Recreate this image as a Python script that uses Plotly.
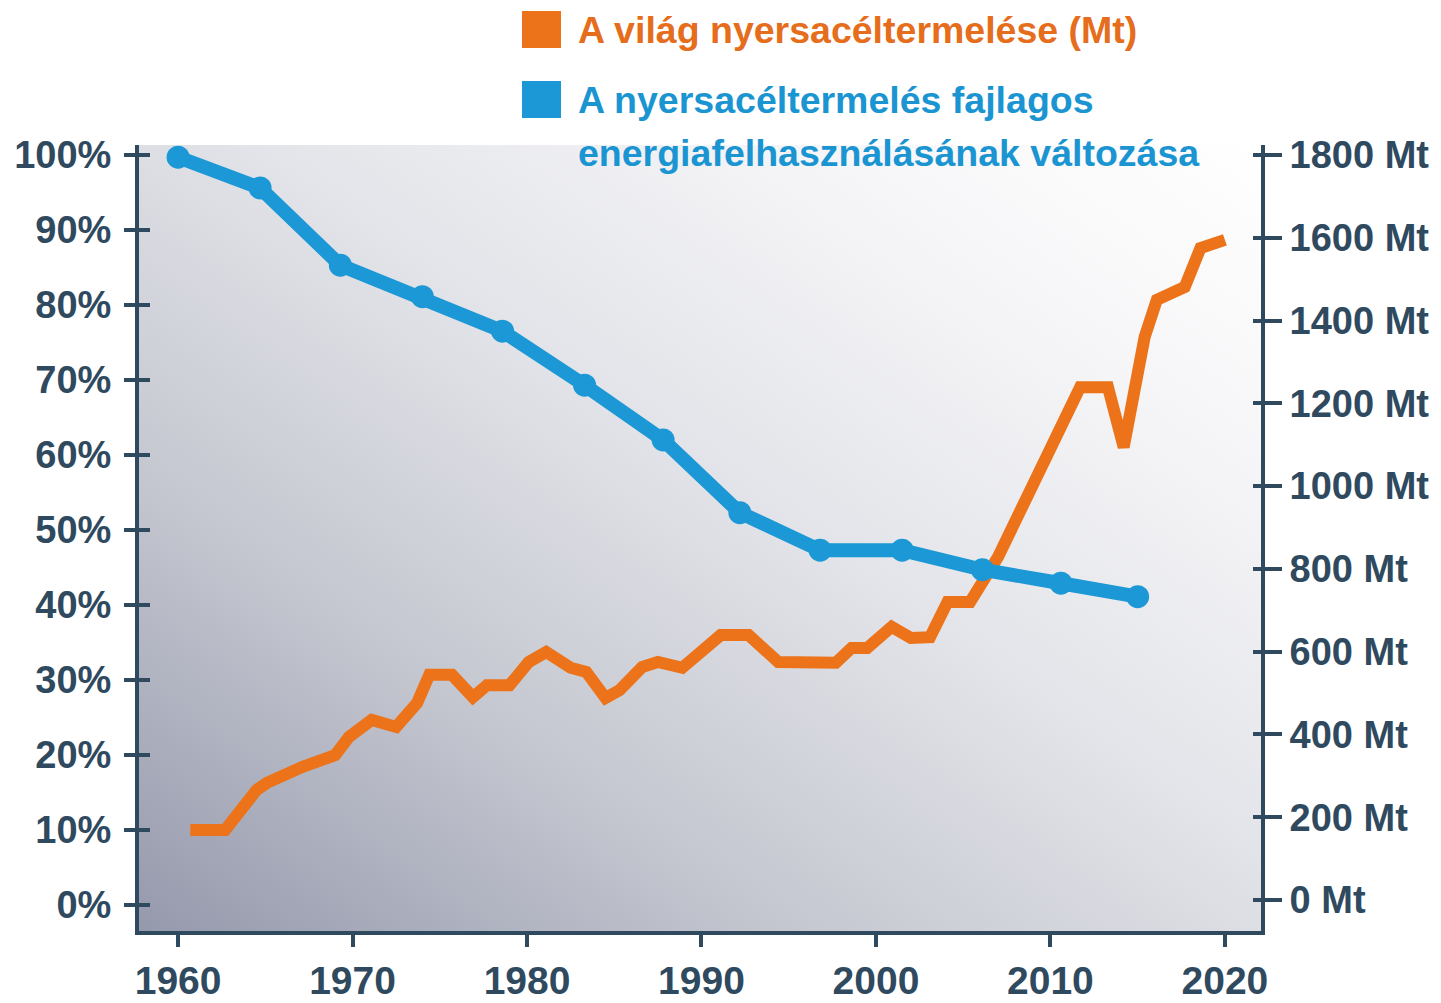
import base64
import plotly.graph_objects as go

# ---------------- data ----------------
steel_years = [1960.7, 1962.7, 1964.5, 1965.1, 1967.1, 1969.0, 1969.8, 1971.1, 1972.5, 1973.7,
               1974.4, 1975.7, 1976.9, 1977.7, 1979.0, 1980.1, 1981.1, 1982.5, 1983.4, 1984.5,
               1985.3, 1986.6, 1987.5, 1988.9, 1991.1, 1992.7, 1994.4, 1997.7, 1998.6, 1999.5,
               2000.9, 2002.0, 2003.1, 2004.1, 2005.4, 2007.0, 2011.7, 2013.3, 2014.2, 2015.4,
               2016.1, 2017.7, 2018.6, 2020.0]
steel_mt = [169, 169, 266, 283, 321, 350, 394, 435, 418, 476,
            544, 544, 490, 519, 519, 575, 599, 561, 551, 488,
            507, 563, 575, 561, 640, 640, 575, 573, 609, 609,
            660, 633, 635, 720, 720, 829, 1239, 1239, 1094, 1360,
            1450, 1481, 1575, 1595]

energy_years = [1960.0, 1964.7, 1969.3, 1974.0, 1978.6, 1983.3, 1987.8, 1992.2, 1996.8,
                2001.5, 2006.1, 2010.6, 2015.0]
energy_pct = [99.7, 95.6, 85.3, 81.1, 76.5, 69.3, 62.0, 52.3, 47.3, 47.3, 44.7, 42.9, 41.1]

x_ticks = [1960, 1970, 1980, 1990, 2000, 2010, 2020]
pct_ticks = [0, 10, 20, 30, 40, 50, 60, 70, 80, 90, 100]
pct_labels = [f"{v}%" for v in pct_ticks]
mt_ticks = [0, 200, 400, 600, 800, 1000, 1200, 1400, 1600, 1800]
mt_labels = [f"{v} Mt" for v in mt_ticks]

legend_steel = "A világ nyersacéltermelése (Mt)"
legend_energy_1 = "A nyersacéltermelés fajlagos"
legend_energy_2 = "energiafelhasználásának változása"

# ---------------- style ----------------
FONT = "Liberation Sans, Arial, Helvetica, sans-serif"
AX = "#2f4a5f"
ORANGE = "#ec7319"
BLUE = "#1b98d5"
ORANGE_TXT = "#e56d1c"
BLUE_TXT = "#1a95d2"

W, H = 1441, 1003
L, R, T, B = 139, 1261, 145, 931

X_RANGE = [1957.76, 2022.07]
PCT_RANGE = [-3.47, 101.33]
MT_RANGE = [-74.9, 1824.1]

svg = ("<svg xmlns='http://www.w3.org/2000/svg' width='200' height='200' preserveAspectRatio='none'>"
       "<defs><linearGradient id='g' x1='0' y1='1' x2='1' y2='0'>"
       "<stop offset='0' stop-color='#9599ac'/>"
       "<stop offset='0.3' stop-color='#c6c8d1'/>"
       "<stop offset='0.55' stop-color='#e3e4e9'/>"
       "<stop offset='0.8' stop-color='#f6f6f8'/>"
       "<stop offset='1' stop-color='#ffffff'/>"
       "</linearGradient></defs><rect width='200' height='200' fill='url(#g)'/></svg>")
bg_uri = "data:image/svg+xml;base64," + base64.b64encode(svg.encode()).decode()

fig = go.Figure()

# orange on primary (right, Mt) axis, drawn first
fig.add_trace(go.Scatter(x=steel_years, y=steel_mt, mode="lines",
                         line=dict(color=ORANGE, width=12), xaxis="x", yaxis="y",
                         name=legend_steel, showlegend=False, hoverinfo="skip"))
# blue on overlaying (left, %) axis, drawn on top
fig.add_trace(go.Scatter(x=energy_years, y=energy_pct, mode="lines+markers",
                         line=dict(color=BLUE, width=14),
                         marker=dict(color=BLUE, size=23),
                         xaxis="x", yaxis="y2",
                         name=legend_energy_1, showlegend=False, hoverinfo="skip"))
# empty traces so the inner-tick helper axes are drawn
fig.add_trace(go.Scatter(x=[None], y=[None], xaxis="x", yaxis="y3", showlegend=False, hoverinfo="skip"))
fig.add_trace(go.Scatter(x=[None], y=[None], xaxis="x", yaxis="y4", showlegend=False, hoverinfo="skip"))

tickfont = dict(family=FONT, size=38, color=AX, weight="bold")

common_y = dict(showgrid=False, zeroline=False, showline=True, linecolor=AX, linewidth=4,
                tickcolor=AX, tickwidth=4, fixedrange=True, automargin=False)

fig.update_layout(
    width=W, height=H,
    margin=dict(l=L, r=W - R, t=T, b=H - B, pad=0, autoexpand=False),
    paper_bgcolor="white",
    plot_bgcolor="rgba(0,0,0,0)",
    showlegend=False,
    xaxis=dict(range=X_RANGE, tickmode="array", tickvals=x_ticks,
               ticks="outside", ticklen=12, tickwidth=4, tickcolor=AX,
               showline=True, linecolor=AX, linewidth=4, showgrid=False, zeroline=False,
               tickfont=dict(family=FONT, size=39, color=AX, weight="bold"),
               fixedrange=True, automargin=False),
    yaxis=dict(range=MT_RANGE, side="right", tickmode="array", tickvals=mt_ticks,
               ticktext=mt_labels, ticks="outside", ticklen=17, tickfont=tickfont, **common_y),
    yaxis2=dict(range=PCT_RANGE, side="left", overlaying="y", tickmode="array",
                tickvals=pct_ticks, ticktext=pct_labels, ticks="outside", ticklen=11,
                tickfont=tickfont, ticklabelstandoff=5, **common_y),
    yaxis3=dict(range=PCT_RANGE, side="left", overlaying="y", tickmode="array",
                tickvals=pct_ticks, showticklabels=False, ticks="inside", ticklen=11,
                **common_y),
    yaxis4=dict(range=MT_RANGE, side="right", overlaying="y", tickmode="array",
                tickvals=mt_ticks, showticklabels=False, ticks="inside", ticklen=8,
                **common_y),
    images=[dict(source=bg_uri, xref="paper", yref="paper", x=0, y=1, sizex=1, sizey=1,
                 sizing="stretch", layer="below", xanchor="left", yanchor="top")],
)

def px(xp):
    return (xp - L) / (R - L)

def py(yp):
    return (B - yp) / (B - T)

# legend squares
fig.add_shape(type="rect", xref="paper", yref="paper", x0=px(522), x1=px(561), y0=py(48), y1=py(11),
              fillcolor=ORANGE, line=dict(width=0))
fig.add_shape(type="rect", xref="paper", yref="paper", x0=px(522), x1=px(561), y0=py(118), y1=py(81),
              fillcolor=BLUE, line=dict(width=0))

legfont = dict(family=FONT, size=37.5, weight="bold")
fig.add_annotation(text=legend_steel, xref="paper", yref="paper", x=px(576), y=py(30),
                   xanchor="left", yanchor="middle", showarrow=False,
                   font=dict(color=ORANGE_TXT, **legfont))
fig.add_annotation(text=legend_energy_1, xref="paper", yref="paper", x=px(576), y=py(100),
                   xanchor="left", yanchor="middle", showarrow=False,
                   font=dict(color=BLUE_TXT, **legfont))
fig.add_annotation(text=legend_energy_2, xref="paper", yref="paper", x=px(576), y=py(153),
                   xanchor="left", yanchor="middle", showarrow=False,
                   font=dict(color=BLUE_TXT, **legfont))

fig.write_html("out.html", config={"displayModeBar": False},
               post_script="document.body.style.margin='0';document.body.style.overflow='hidden';")
